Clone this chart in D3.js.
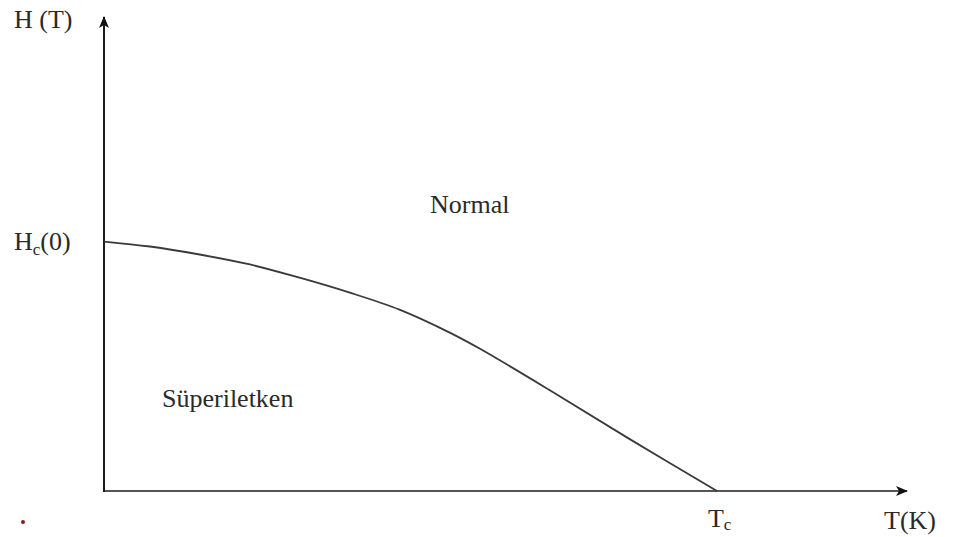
<!DOCTYPE html>
<html>
<head>
<meta charset="utf-8">
<script src="https://cdn.jsdelivr.net/npm/d3@7"></script>
<style>
  html, body { margin: 0; padding: 0; background: #fff; }
  svg { display: block; }
  text { font-family: "Liberation Serif", "DejaVu Serif", serif; fill: #2a2a2a; }
</style>
</head>
<body>
<svg id="chart" width="956" height="537"></svg>
<script>
// Critical field curve H_c(T), in reduced units (T / Tc, H / Hc(0))
const temperature = [0, 0.075, 0.156, 0.238, 0.319, 0.401, 0.482, 0.564, 0.612, 0.726, 0.857, 1];
const criticalField = [1, 0.980, 0.948, 0.908, 0.855, 0.795, 0.727, 0.635, 0.572, 0.406, 0.209, 0];

// Axis extents (the arrows run past Tc and Hc(0))
const tAxisMax = 1.31;
const hAxisMax = 1.9;

const svg = d3.select("#chart");

const x = d3.scaleLinear().domain([0, tAxisMax]).range([104, 907]);
const y = d3.scaleLinear().domain([0, hAxisMax]).range([491, 17]);

// Arrowhead marker
const defs = svg.append("defs");
defs.append("marker")
  .attr("id", "arrow")
  .attr("viewBox", "0 0 12 10")
  .attr("refX", 11)
  .attr("refY", 5)
  .attr("markerWidth", 12)
  .attr("markerHeight", 10)
  .attr("markerUnits", "userSpaceOnUse")
  .attr("orient", "auto")
  .append("path")
  .attr("d", "M0,0 L12,5 L0,10 L3,5 Z")
  .attr("fill", "#111");

// Axes
svg.append("line")
  .attr("x1", x(0)).attr("y1", y(0))
  .attr("x2", x(tAxisMax)).attr("y2", y(0))
  .attr("stroke", "#555").attr("stroke-width", 2.2)
  .attr("marker-end", "url(#arrow)");
svg.append("line")
  .attr("x1", x(0)).attr("y1", y(0) + 1)
  .attr("x2", x(0)).attr("y2", y(hAxisMax))
  .attr("stroke", "#1a1a1a").attr("stroke-width", 2)
  .attr("marker-end", "url(#arrow)");

// Phase boundary
const line = d3.line()
  .x((d, i) => x(temperature[i]))
  .y(d => y(d))
  .curve(d3.curveCatmullRom.alpha(0.5));
svg.append("path")
  .datum(criticalField)
  .attr("d", line)
  .attr("fill", "none")
  .attr("stroke", "#3a3a3a")
  .attr("stroke-width", 1.8);

// Axis titles
svg.append("text").attr("x", 14).attr("y", 28)
  .attr("font-size", 26).text("H (T)");
svg.append("text").attr("x", 884).attr("y", 529)
  .attr("font-size", 26).text("T(K)");

// Hc(0) at the field axis
const hc = svg.append("text").attr("x", 14).attr("y", y(1) + 8).attr("font-size", 26);
hc.append("tspan").text("H");
hc.append("tspan").attr("font-size", 17).attr("dy", 5).text("c");
hc.append("tspan").attr("dy", -5).text("(0)");

// Tc on the temperature axis
const tc = svg.append("text").attr("x", x(1) - 9).attr("y", 527).attr("font-size", 26);
tc.append("tspan").text("T");
tc.append("tspan").attr("font-size", 17).attr("dy", 3).text("c");

// Region labels
svg.append("text").attr("x", 430).attr("y", 213)
  .attr("font-size", 26).text("Normal");
svg.append("text").attr("x", 162).attr("y", 407)
  .attr("font-size", 26).text("Süperiletken");

// Small red mark at the bottom left
svg.append("circle").attr("cx", 23).attr("cy", 522).attr("r", 2)
  .attr("fill", "#8b1a1a");
</script>
</body>
</html>
